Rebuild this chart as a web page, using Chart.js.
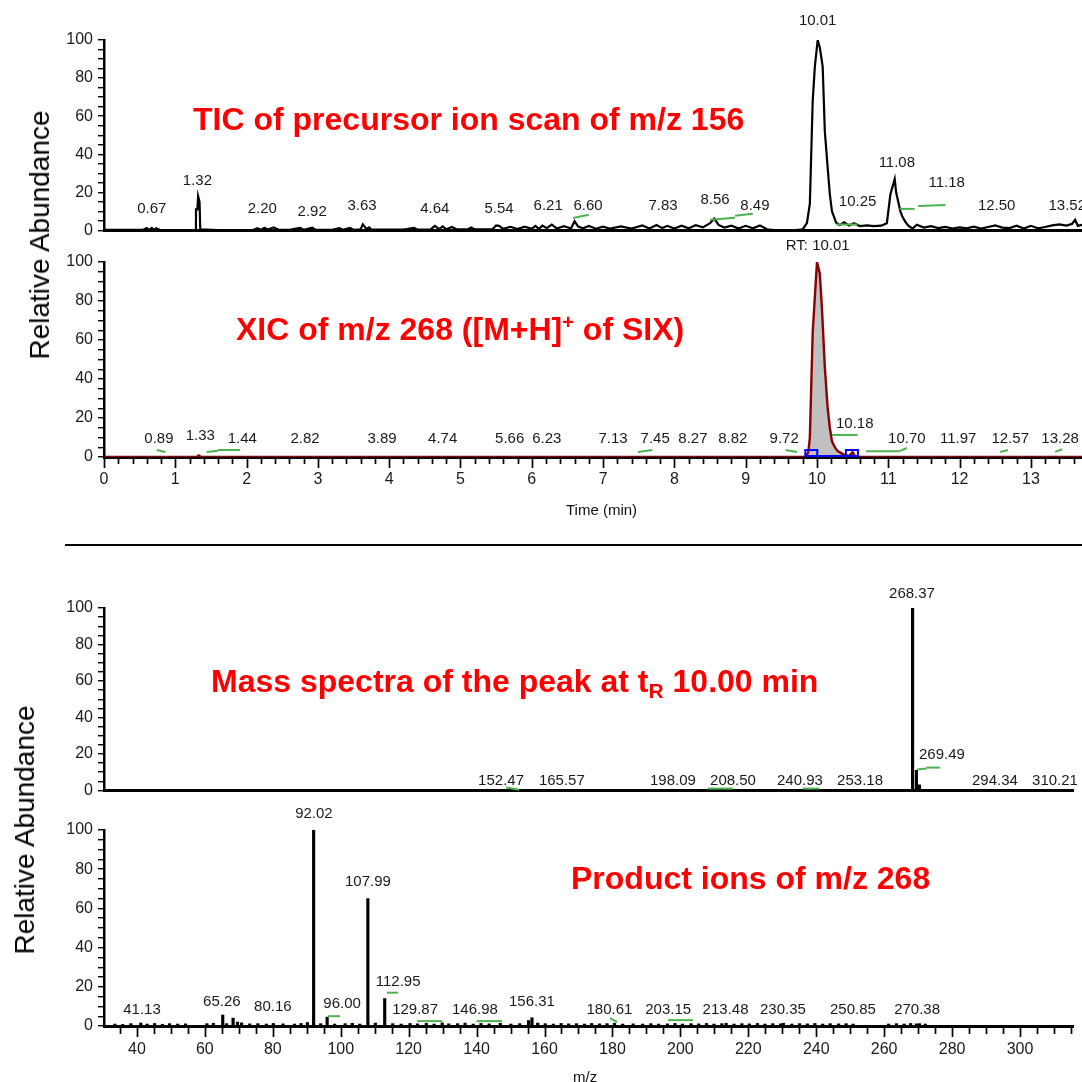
<!DOCTYPE html>
<html>
<head>
<meta charset="utf-8">
<script src="https://cdn.jsdelivr.net/npm/chart.js@4.4.1/dist/chart.umd.min.js"></script>
<style>
    html, body { margin: 0; padding: 0; background: #fff; }
    #page { position: relative; width: 1082px; height: 1082px; overflow: hidden;
            font-family: "Liberation Sans", Arial, sans-serif; }
    canvas { position: absolute; left: 0; }
    .title { position: absolute; color: #ff0000; font-weight: bold; font-size: 32px;
             line-height: 32px; white-space: nowrap; }
    .title sup { font-size: 20px; line-height: 0; vertical-align: 11px; }
    .title sub { font-size: 21px; line-height: 0; vertical-align: -6px; }
    .ylab { position: absolute; font-size: 28px; line-height: 28px; white-space: nowrap;
            color: #000; transform: translate(-50%, -50%) rotate(-90deg); }
    .xlab { position: absolute; font-size: 15px; line-height: 16px; color: #111; white-space: nowrap; }
    #divider { position: absolute; left: 65px; top: 544px; width: 1017px; height: 2px; background: #000; }
</style>
</head>
<body>
<div id="page">
    <canvas id="ticChart" width="1082" height="245" style="top:0px"></canvas>
    <canvas id="xicChart" width="1082" height="290" style="top:240px"></canvas>
    <canvas id="msChart" width="1082" height="245" style="top:560px"></canvas>
    <canvas id="prodChart" width="1082" height="277" style="top:805px"></canvas>

    <div id="divider"></div>

    <div class="title" style="left:193px; top:103px">TIC of precursor ion scan of m/z 156</div>
    <div class="title" style="left:236px; top:313px">XIC of m/z 268 ([M+H]<sup>+</sup> of SIX)</div>
    <div class="title" style="left:211px; top:665px">Mass spectra of the peak at t<sub>R</sub> 10.00 min</div>
    <div class="title" style="left:571px; top:862px">Product ions of m/z 268</div>

    <div class="ylab" style="left:40px; top:235px">Relative Abundance</div>
    <div class="ylab" style="left:25px; top:830px">Relative Abundance</div>

    <div class="xlab" style="left:566px; top:502px">Time (min)</div>
    <div class="xlab" style="left:573px; top:1069px">m/z</div>
</div>

<script>
// ---- TIC of precursor ion scan (time in min, relative abundance) ----
const ticTime = [
    0, 0.55, 0.6, 0.63, 0.67, 0.7, 0.73, 0.78, 1.0, 1.28, 1.29, 1.31, 1.32, 1.34, 1.35, 1.6,
    2.1, 2.15, 2.2, 2.25, 2.3, 2.38, 2.45, 2.6, 2.75, 2.8, 2.92, 2.97, 3.2, 3.3, 3.35, 3.45,
    3.5, 3.6, 3.63, 3.68, 3.72, 3.75, 3.9, 4.2, 4.35, 4.4, 4.58, 4.64, 4.7, 4.75, 4.8, 4.88,
    4.95, 5.1, 5.15, 5.2, 5.45, 5.5, 5.54, 5.6, 5.7, 5.8, 5.9, 6.0, 6.05, 6.1, 6.15, 6.21,
    6.28, 6.35, 6.45, 6.55, 6.6, 6.65, 6.72, 6.8, 6.9, 7.0, 7.1, 7.25, 7.4, 7.55, 7.65, 7.75,
    7.83, 7.9, 8.0, 8.1, 8.2, 8.3, 8.4, 8.5, 8.56, 8.62, 8.7, 8.8, 8.9, 9.0, 9.1, 9.2,
    9.3, 9.4, 9.5, 9.6, 9.7, 9.8, 9.86, 9.9, 9.94, 9.97, 10.01, 10.04, 10.08, 10.11, 10.15, 10.18,
    10.21, 10.27, 10.32, 10.38, 10.45, 10.52, 10.6, 10.7, 10.8, 10.9, 10.98, 11.03, 11.09, 11.11, 11.14, 11.17,
    11.2, 11.24, 11.28, 11.34, 11.4, 11.5, 11.6, 11.7, 11.8, 11.9, 12.0, 12.1, 12.2, 12.3, 12.4, 12.5,
    12.6, 12.7, 12.8, 12.9, 13.0, 13.1, 13.2, 13.3, 13.4, 13.5, 13.58, 13.62, 13.66, 13.72,
];
const ticAbund = [
    0.3, 0.3, 1.2, 0.2, 1.3, 0.2, 1.1, 0.3, 0.2, 0.3, 11, 11, 18, 15, 0.5, 0.2,
    0.3, 1.2, 0.3, 1.4, 0.4, 1.6, 0.3, 0.3, 1.3, 0.3, 1.4, 0.3, 0.3, 1.2, 0.3, 1.3,
    0.3, 0.6, 3.2, 0.8, 1.6, 0.4, 0.4, 0.4, 1.3, 0.4, 0.5, 2.4, 0.7, 2.1, 0.6, 1.8,
    0.5, 0.5, 1.5, 0.5, 0.6, 2.6, 2.4, 0.8, 1.9, 0.7, 2.0, 0.8, 2.4, 0.8, 2.5, 1.2,
    3.0, 1.0, 2.2, 1.0, 4.8, 2.0, 1.1, 2.3, 0.9, 2.0, 0.9, 2.1, 1.0, 2.6, 1.0, 2.8,
    1.2, 2.4, 1.0, 2.5, 1.1, 2.7, 1.6, 3.8, 6.2, 2.9, 1.5, 2.5, 1.0, 2.4, 1.1, 2.6,
    0.6, 0.2, 0.1, 0.1, 0.2, 0.5, 4, 14, 68, 86, 100, 96, 86, 52, 33, 19,
    10, 4, 2.8, 4.2, 2.6, 3.8, 2.3, 2.6, 2.2, 2.5, 3.8, 19, 27, 20, 15, 10,
    7, 4.5, 2.5, 1.0, 3.0, 1.5, 2.2, 1.2, 1.8, 1.0, 1.6, 1.1, 2.0, 1.0, 1.8, 2.6,
    1.5, 1.2, 2.5, 1.0, 2.4, 1.1, 1.8, 2.6, 3.2, 2.5, 3.5, 5.5, 2.4, 3.0,
];
const ticLabelText = ["0.67", "1.32", "2.20", "2.92", "3.63", "4.64", "5.54", "6.21", "6.60",
    "7.83", "8.56", "8.49", "10.01", "10.25", "11.08", "11.18", "12.50", "13.52"];
const ticLabelTime = [0.67, 1.31, 2.22, 2.92, 3.62, 4.64, 5.54, 6.23, 6.79,
    7.84, 8.57, 9.13, 10.01, 10.57, 11.12, 11.82, 12.52, 13.51];
const ticLabelLevel = [7.2, 22, 7.2, 5.6, 8.7, 7.2, 7.2, 8.7, 8.7,
    8.7, 12.3, 8.7, 106, 10.8, 31.3, 21, 8.7, 8.7];
const ticLeaders = [
    [6.58, 6.5, 6.8, 8.2], [8.5, 5.6, 8.85, 6.7], [8.85, 7.7, 9.1, 8.7],
    [10.27, 3.1, 10.57, 3.1], [11.16, 11.3, 11.37, 11.3], [11.42, 12.8, 11.8, 13.3],
];

// ---- XIC of m/z 268 ----
const xicTime = [0, 1.3, 1.33, 1.36, 9.85, 9.88, 9.9, 9.94, 9.97, 10.0, 10.02, 10.04, 10.07,
    10.11, 10.15, 10.18, 10.21, 10.25, 10.29, 10.34, 10.39, 10.45, 10.5, 10.53, 10.6, 13.72];
const xicAbund = [0, 0, 0.8, 0, 0, 3, 10, 64, 82, 100, 97, 94, 76,
    46, 25, 15, 8, 5, 3, 2, 1, 0.5, 2.5, 0.5, 0, 0];
const xicLabelText = ["0.89", "1.33", "1.44", "2.82", "3.89", "4.74", "5.66", "6.23", "7.13", "7.45",
    "8.27", "8.82", "9.72", "RT: 10.01", "10.18", "10.70", "11.97", "12.57", "13.28"];
const xicLabelTime = [0.77, 1.35, 1.94, 2.82, 3.9, 4.75, 5.69, 6.21, 7.14, 7.73,
    8.26, 8.82, 9.54, 10.01, 10.53, 11.26, 11.98, 12.71, 13.41];
const xicLabelLevel = [5.6, 7.2, 5.6, 5.6, 5.6, 5.6, 5.6, 5.6, 5.6, 5.6,
    5.6, 5.6, 5.6, 104.5, 13.3, 5.6, 5.6, 5.6, 5.6];
const xicLeaders = [
    [0.74, 3.6, 0.86, 2.6], [1.44, 2.6, 1.6, 3.2], [1.6, 3.6, 1.91, 3.6], [7.49, 2.6, 7.69, 3.6],
    [9.56, 3.6, 9.72, 2.6], [10.21, 11.3, 10.57, 11.3], [10.69, 3, 11.16, 3], [11.16, 3, 11.26, 4.6],
    [12.57, 2.6, 12.68, 3.6], [13.34, 2.6, 13.44, 4],
];
const xicPeakStart = 9.84;
const xicPeakEnd = 10.55;
const xicMarkers = [9.92, 10.49];

// ---- Mass spectrum of the peak at 10.00 min ----
const msMz = [152.47, 165.57, 198.09, 208.5, 240.93, 253.18, 268.37, 269.49, 270.4, 294.34, 310.21];
const msAbund = [0.4, 0.3, 0.3, 0.4, 0.4, 0.3, 100, 11, 3, 0.3, 0.3];
const msLabelText = ["152.47", "165.57", "198.09", "208.50", "240.93", "253.18", "268.37", "269.49", "294.34", "310.21"];
const msLabelMz = [147.2, 165.1, 197.8, 215.5, 235.2, 252.9, 268.2, 277.0, 292.6, 310.3];
const msLabelLevel = [1, 1, 1, 1, 1, 1, 103.7, 15.5, 1, 1];
const msLeaders = [
    [148.7, 1.6, 152.5, 0.3], [208.1, 1, 215.5, 1], [236, 1, 240.8, 1],
    [269.7, 11.5, 272.5, 12.0], [272.5, 12.5, 276.5, 12.5],
];

// ---- Product ions of m/z 268 ----
const prodMz = [
    33.5, 35.8, 38.2, 41.13, 43.0, 45.2, 47.5, 49.6, 52.0, 54.3, 60.6, 62.5, 65.26, 66.4, 68.3, 69.6,
    70.8, 73.2, 75.6, 78.1, 80.16, 83.0, 86.4, 88.3, 90.2, 92.02, 94.1, 96.0, 98.2, 101.3, 103.4, 105.6,
    107.99, 110.2, 112.95, 115.3, 117.8, 120.4, 122.6, 125.2, 127.5, 129.87, 131.8, 134.4, 136.6, 139.0,
    141.3, 143.7, 146.98, 150.1, 152.7, 155.3, 156.31, 158.0, 160.2, 162.6, 164.9, 167.1, 169.4, 171.8,
    173.9, 176.2, 178.4, 180.61, 183.0, 186.1, 188.9, 191.3, 193.6, 196.2, 198.4, 200.6, 203.15, 205.4,
    207.7, 209.9, 212.2, 213.48, 215.8, 218.1, 220.3, 222.7, 224.9, 227.2, 229.5, 230.35, 232.8, 235.1,
    237.4, 239.6, 241.9, 244.1, 246.6, 248.8, 250.85, 261.3, 263.6, 265.9, 267.8, 269.5, 270.38, 272.1,
];
const prodAbund = [
    1.0, 0.8, 1.2, 1.5, 1.0, 1.3, 0.9, 1.2, 1.0, 1.1, 1.2, 1.4, 5.6, 1.2, 4.0, 2.0,
    1.6, 1.1, 1.2, 1.0, 1.3, 1.1, 1.0, 1.3, 1.8, 100, 1.2, 4.5, 1.0, 1.2, 1.4, 1.0,
    65, 1.5, 14, 1.2, 1.0, 1.3, 1.1, 1.4, 1.0, 1.6, 1.1, 1.2, 1.5, 1.0,
    1.3, 1.1, 1.4, 1.0, 1.2, 2.8, 4.2, 1.5, 1.2, 1.0, 1.3, 1.1, 1.2, 1.0,
    1.3, 1.1, 1.2, 1.4, 1.0, 1.1, 1.0, 1.2, 1.0, 1.1, 1.3, 1.0, 1.2, 1.1,
    1.3, 1.0, 1.2, 1.4, 1.0, 1.2, 1.1, 1.3, 1.0, 1.2, 1.1, 1.4, 1.0, 1.2,
    1.1, 1.3, 1.0, 1.2, 1.1, 1.2, 1.0, 1.0, 1.2, 1.0, 1.3, 1.1, 1.2, 1.0,
];
const prodLabelText = ["41.13", "65.26", "80.16", "92.02", "96.00", "107.99", "112.95", "129.87",
    "146.98", "156.31", "180.61", "203.15", "213.48", "230.35", "250.85", "270.38"];
const prodLabelMz = [41.5, 65.0, 80.0, 92.1, 100.4, 108.0, 116.9, 121.9,
    139.5, 156.3, 179.1, 196.4, 213.3, 230.2, 250.8, 269.7];
const prodLabelLevel = [4.6, 8.7, 6.1, 104.6, 7.7, 69.9, 18.9, 4.6,
    4.6, 8.7, 4.6, 4.6, 4.6, 4.6, 4.6, 4.6];
const prodLeaders = [
    [96.2, 5, 99.8, 5], [113.6, 17, 116.9, 17], [122.5, 2.5, 129.9, 2.5],
    [140, 2.5, 147.5, 2.5], [179.3, 4, 181.4, 2], [196.4, 3, 203.7, 3],
];

const TEXT_COLOR = "#1a1a1a";
const LEADER_COLOR = "#4db34d";
const FONT_FAMILY = "'Liberation Sans', Arial, sans-serif";

Chart.defaults.font.family = FONT_FAMILY;
Chart.defaults.color = TEXT_COLOR;

function toPoints(xs, ys) {
    return xs.map((x, i) => ({ x: x, y: ys[i] }));
}

// peak labels and their green leader lines, placed in data units
function peakLabels(texts, xs, levels, leaders) {
    return {
        id: "peakLabels",
        afterDatasetsDraw(chart) {
            const { ctx, scales: { x, y } } = chart;
            ctx.save();
            ctx.strokeStyle = LEADER_COLOR;
            ctx.lineWidth = 2;
            leaders.forEach(([x1, y1, x2, y2]) => {
                ctx.beginPath();
                ctx.moveTo(x.getPixelForValue(x1), y.getPixelForValue(y1));
                ctx.lineTo(x.getPixelForValue(x2), y.getPixelForValue(y2));
                ctx.stroke();
            });
            ctx.fillStyle = TEXT_COLOR;
            ctx.font = "15px " + FONT_FAMILY;
            ctx.textAlign = "center";
            ctx.textBaseline = "bottom";
            texts.forEach((t, i) => {
                ctx.fillText(t, x.getPixelForValue(xs[i]), y.getPixelForValue(levels[i]));
            });
            ctx.restore();
        },
    };
}

// minor / major tick marks under the x axis
function axisTicks(minorStep, majorStep, minorLen, majorLen) {
    return {
        id: "axisTicks",
        afterDraw(chart) {
            const { ctx, chartArea, scales: { x } } = chart;
            ctx.save();
            ctx.strokeStyle = "#000";
            ctx.lineWidth = 1.7;
            const first = Math.ceil(x.min / minorStep - 1e-9);
            const last = Math.floor(x.max / minorStep + 1e-9);
            for (let k = first; k <= last; k++) {
                const v = k * minorStep;
                const r = v / majorStep;
                const isMajor = Math.abs(r - Math.round(r)) < 1e-6;
                const px = Math.round(x.getPixelForValue(v)) + 0.5;
                ctx.beginPath();
                ctx.moveTo(px, chartArea.bottom);
                ctx.lineTo(px, chartArea.bottom + (isMajor ? majorLen : minorLen));
                ctx.stroke();
            }
            ctx.restore();
        },
    };
}

// integrated peak baseline of the XIC
const xicBaseline = {
    id: "xicBaseline",
    afterDatasetsDraw(chart) {
        const { ctx, scales: { x, y } } = chart;
        const y0 = y.getPixelForValue(0);
        ctx.save();
        ctx.strokeStyle = "#0000ff";
        ctx.lineWidth = 2;
        ctx.beginPath();
        ctx.moveTo(x.getPixelForValue(xicPeakStart), y0 - 1);
        ctx.lineTo(x.getPixelForValue(xicPeakEnd), y0 - 1);
        ctx.stroke();
        xicMarkers.forEach((t) => {
            ctx.strokeRect(x.getPixelForValue(t) - 6, y0 - 7, 12, 6);
        });
        ctx.restore();
    },
};

function yAxis() {
    return {
        min: 0,
        max: 100,
        afterFit: (scale) => { scale.width = 104; },
        border: { color: "#000", width: 2.5 },
        grid: { drawOnChartArea: false, color: "#000", lineWidth: 1.4, tickLength: 6 },
        ticks: {
            stepSize: 5,
            autoSkip: false,
            padding: 5,
            color: TEXT_COLOR,
            font: { size: 16 },
            callback: (v) => (v % 20 === 0 ? v : ""),
        },
    };
}

function xAxis(min, max, height, tickOptions) {
    return {
        type: "linear",
        min: min,
        max: max,
        offset: false,
        afterFit: (scale) => { scale.height = height; },
        border: { color: "#000", width: 3 },
        grid: { display: false, drawTicks: false },
        ticks: tickOptions || { display: false },
    };
}

function baseOptions(padding, scales) {
    return {
        responsive: false,
        animation: false,
        devicePixelRatio: 1,
        layout: { padding: padding },
        plugins: { legend: { display: false }, tooltip: { enabled: false } },
        scales: scales,
    };
}

new Chart(document.getElementById("ticChart"), {
    type: "line",
    data: {
        datasets: [{
            data: toPoints(ticTime, ticAbund),
            borderColor: "#000",
            borderWidth: 2.2,
            pointRadius: 0,
            tension: 0,
            fill: false,
        }],
    },
    options: baseOptions({ top: 40, right: 0, left: 0, bottom: 0 }, {
        x: xAxis(0, 13.717, 10),
        y: yAxis(),
    }),
    plugins: [peakLabels(ticLabelText, ticLabelTime, ticLabelLevel, ticLeaders)],
});

new Chart(document.getElementById("xicChart"), {
    type: "line",
    data: {
        datasets: [{
            data: toPoints(xicTime, xicAbund),
            borderColor: "#8b0000",
            backgroundColor: "#c0c0c0",
            borderWidth: 2.4,
            pointRadius: 0,
            tension: 0,
            fill: "origin",
        }],
    },
    options: baseOptions({ top: 22, right: 0, left: 0, bottom: 0 }, {
        x: xAxis(0, 13.717, 73, {
            stepSize: 1,
            includeBounds: false,
            autoSkip: false,
            maxRotation: 0,
            padding: 13,
            color: TEXT_COLOR,
            font: { size: 16 },
        }),
        y: yAxis(),
    }),
    plugins: [
        xicBaseline,
        axisTicks(0.2, 1, 7, 11),
        peakLabels(xicLabelText, xicLabelTime, xicLabelLevel, xicLeaders),
    ],
});

new Chart(document.getElementById("msChart"), {
    type: "bar",
    data: {
        datasets: [{
            data: toPoints(msMz, msAbund),
            backgroundColor: "#000",
            borderWidth: 0,
            barThickness: 2.5,
        }],
    },
    options: baseOptions({ top: 48, right: 9, left: 0, bottom: 0 }, {
        x: xAxis(30.3, 315.6, 10),
        y: yAxis(),
    }),
    plugins: [peakLabels(msLabelText, msLabelMz, msLabelLevel, msLeaders)],
});

new Chart(document.getElementById("prodChart"), {
    type: "bar",
    data: {
        datasets: [{
            data: toPoints(prodMz, prodAbund),
            backgroundColor: "#000",
            borderWidth: 0,
            barThickness: 2.5,
        }],
    },
    options: baseOptions({ top: 25, right: 9, left: 0, bottom: 0 }, {
        x: xAxis(30.3, 315.6, 56, {
            stepSize: 20,
            includeBounds: false,
            autoSkip: false,
            maxRotation: 0,
            padding: 14,
            color: TEXT_COLOR,
            font: { size: 16 },
        }),
        y: yAxis(),
    }),
    plugins: [
        axisTicks(5, 20, 8, 11),
        peakLabels(prodLabelText, prodLabelMz, prodLabelLevel, prodLeaders),
    ],
});
</script>
</body>
</html>
